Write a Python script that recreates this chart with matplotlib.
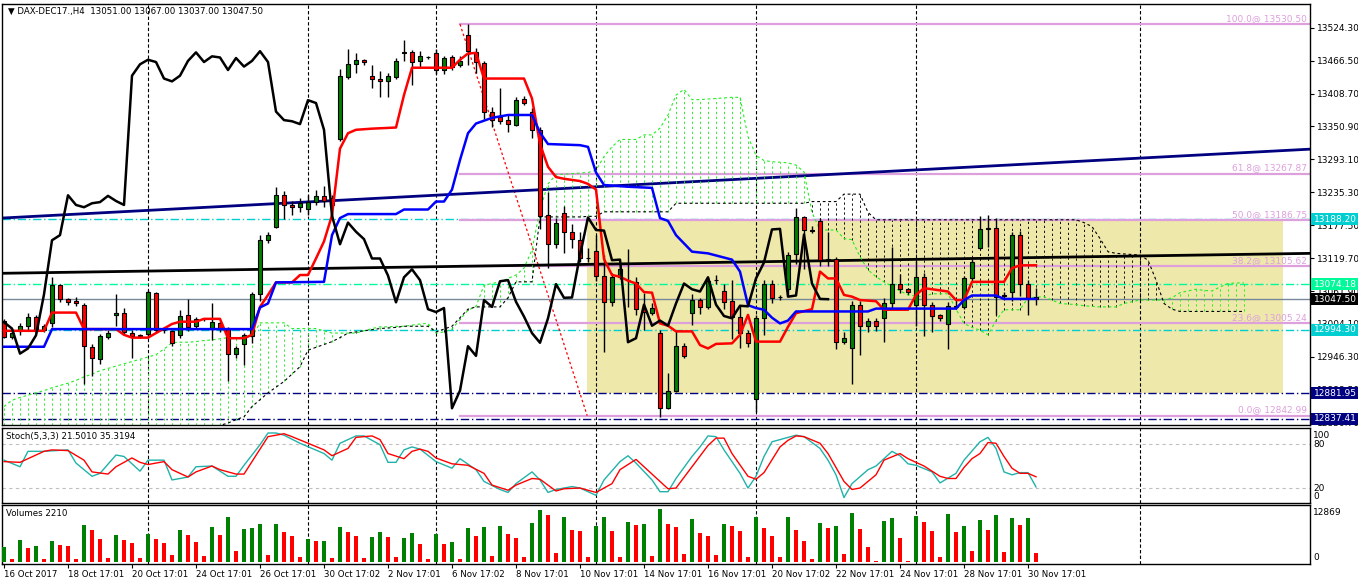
import numpy as np
import matplotlib
matplotlib.use("Agg")
import matplotlib.pyplot as plt
from matplotlib.patches import Rectangle
from matplotlib.transforms import blended_transform_factory

plt.rcParams['font.family'] = ['DejaVu Sans']
plt.rcParams['font.size'] = 6.5

# DAX-DEC17 H4 candles, bar 0 = 16 Oct 2017
opens = [13010, 12981, 12992, 13000, 13016, 12993, 13005, 13072, 13047, 13044,
         13038, 12964, 12943, 12982, 13020, 13023, 12989, 12984, 12986, 13058,
         12993, 12991, 12985, 13019, 13000, 13012, 12996, 13005, 12996, 12952,
         12969, 12983, 13057, 13151, 13174, 13230, 13213, 13209, 13206, 13218,
         13228, 13226, 13329, 13438, 13460, 13468, 13440, 13434, 13430, 13438,
         13480, 13481, 13465, 13472, 13479, 13450, 13472, 13458, 13511, 13482,
         13463, 13377, 13367, 13362, 13354, 13399, 13377, 13345, 13195, 13144,
         13199, 13166, 13152, 13120, 13133, 13089, 13043, 13086, 13081, 13078,
         13030, 13024, 12988, 12856, 12887, 12965, 13024, 13046, 13034, 13082,
         13062, 13044, 13017, 12988, 12872, 13014, 13074, 13051, 13065, 13127,
         13191, 13169, 13185, 13117.5, 13118, 12972, 12961, 13038, 13001, 13010,
         13014, 13040, 13075, 13065, 13038, 13086, 13038, 13020, 13004, 13033,
         13033, 13084, 13138, 13171, 13172, 13055, 13061, 13161, 13075, 13051]
highs = [13013, 12994, 13005, 13023, 13020, 13004, 13087, 13075, 13049, 13051,
         13040, 12969, 12987, 12994, 13056, 13032, 12994, 12987, 13064, 13060,
         12999, 12993, 13028, 13048, 13016, 13014, 13040, 13010, 12999, 12966,
         12988, 13061, 13161, 13165, 13244, 13237, 13220, 13225, 13230, 13239,
         13247, 13231, 13452, 13487, 13480, 13470, 13458, 13449, 13445, 13471,
         13503, 13485, 13484, 13475, 13486, 13474, 13477, 13474, 13530.5, 13488,
         13466, 13385, 13418, 13371, 13402, 13405, 13383, 13350, 13235, 13190,
         13211, 13180, 13165, 13137, 13160, 13125, 13094, 13104, 13135, 13087,
         13058, 13040, 12993, 12918, 12992, 12971, 13056, 13050, 13085, 13090,
         13075, 13082, 13035, 12993, 13020, 13082, 13082, 13055, 13130, 13207,
         13194, 13176, 13190, 13166, 13121, 12990, 13044, 13044, 13015, 13015,
         13050, 13140, 13092, 13068, 13115, 13094, 13042, 13022, 13042, 13048,
         13089, 13118, 13193, 13195, 13190, 13060, 13166, 13167, 13082, 13067]
lows = [12979, 12978, 12985, 12993, 12988, 12990, 12999, 13043, 13038, 13036,
        12899, 12913, 12933, 12977, 13000, 12984, 12945, 12980, 12979, 12990,
        12988, 12965, 12980, 12992, 12996, 13010, 12976, 12990, 12903, 12945,
        12932, 12970, 13044, 13146, 13172, 13188, 13196, 13200, 13196, 13213,
        13210, 13190, 13326, 13435, 13445, 13459, 13418, 13402, 13402, 13435,
        13465, 13424, 13456, 13469, 13443, 13443, 13450, 13455, 13458, 13445,
        13364, 13350, 13355, 13342, 13352, 13388, 13330, 13170, 13103, 13138,
        13128, 13138, 13112, 13113, 13080, 12955, 13036, 13083, 13034, 13020,
        12994, 13020, 12840, 12855, 12884, 12945, 13002, 13022, 13030, 13075,
        13030, 12978, 12962, 12963, 12850, 12985, 13040, 13046, 13055, 13110,
        13100, 13164, 13105, 13105, 12960, 12968, 12898, 12950, 12990, 12992,
        12972, 13030, 13058, 13056, 13000, 12983, 12990, 13010, 12960, 13030,
        13030, 13080, 13135, 13140, 13020, 13050, 13045, 13053, 13020, 13037]
closes = [12982, 12989, 13000, 13016, 12992, 13000, 13072, 13047, 13042, 13041,
          12965, 12945, 12983, 12989, 13024, 12990, 12983, 12983, 13060, 12993,
          12994, 12971, 13018, 12998, 13012, 13013, 13007, 12996, 12952, 12961,
          12984, 13056, 13151, 13160, 13230, 13213, 13209, 13216, 13218, 13229,
          13220, 13213, 13440, 13460, 13468, 13464, 13435, 13430, 13440, 13466,
          13481, 13464, 13474, 13472, 13450, 13471, 13456, 13466, 13483, 13464,
          13377, 13362, 13360, 13355, 13397, 13392, 13345, 13194, 13144, 13182,
          13166, 13153, 13119, 13119, 13089, 13042, 13086, 13100, 13081, 13030,
          13025, 13032, 12856, 12887, 12965, 12948, 13046, 13034, 13079, 13081,
          13043, 13017, 12988, 12971, 13014, 13074, 13050, 13050.5, 13125, 13191,
          13169, 13168, 13116, 13117, 12972, 12979, 13038, 13001, 13010, 13001,
          13040, 13075, 13065, 13061, 13086, 13038, 13018, 13014, 13036, 13035,
          13084, 13112, 13170, 13171, 13052, 13054, 13161, 13075, 13048, 13047.5]
volumes = [3760, 800, 5360, 3520, 3920, 800, 5120, 4160, 3920, 800,
           8960, 7760, 5680, 1120, 6560, 5360, 4720, 1120, 6800, 5680,
           4640, 1760, 7760, 6560, 4880, 1520, 8480, 6560, 10880, 2720,
           8080, 8160, 9200, 1760, 9200, 7280, 6320, 1280, 5600, 5120,
           5200, 1040, 8480, 7280, 6320, 1040, 6080, 7280, 6080, 1280,
           5840, 7040, 4400, 800, 6800, 4400, 4880, 800, 8240, 6320,
           8480, 1520, 8720, 6800, 5920, 1280, 9440, 12560, 11360, 2240,
           10880, 7760, 7520, 1280, 8720, 10880, 7520, 1280, 9680, 8960,
           9200, 1520, 12869, 9200, 8480, 2000, 10400, 7040, 6320, 1760,
           9200, 8720, 7520, 1280, 10880, 8240, 6320, 1280, 10880, 7760,
           5120, 800, 9440, 8240, 8720, 2000, 11840, 8000, 3680, 320,
           9920, 10640, 5840, 320, 11120, 9680, 7520, 1280, 11600, 7280,
           8720, 2720, 10160, 7760, 11360, 2480, 10640, 8960, 10640, 2210]

# Ichimoku lines (vertices)
tenkan_bar = [0, 5, 6, 9, 10, 14, 15, 16, 18, 19, 20, 21, 22, 24, 25, 27, 28, 30, 31, 32,
              33, 34, 36, 37, 38, 39, 40, 41, 42, 43, 44, 46, 49, 50, 51, 56, 57, 58, 59, 60,
              65, 66, 67, 68, 69, 70, 72, 73, 74, 75, 76, 77, 78, 79, 80, 81, 82, 83, 84, 86,
              87, 88, 89, 91, 92, 93, 94, 97, 98, 99, 101, 102, 103, 104, 105, 106, 107, 109, 110, 113,
              114, 115, 117, 118, 119, 120, 121, 125, 126, 127, 129]
tenkan_val = [12992, 12992, 13024, 13024, 12995, 12995, 12985, 12980, 12980, 12988, 12996, 13004, 13008, 13008, 13013, 13013, 12979, 12979, 12985, 13034,
              13055, 13077, 13077, 13090, 13090, 13119, 13149, 13195, 13312, 13339, 13345, 13347, 13349, 13406, 13454, 13454, 13468, 13479, 13480, 13435,
              13435, 13400, 13320, 13280, 13262, 13259, 13255, 13250, 13240, 13118, 13090, 13087, 13080, 13075, 13060, 13059, 13005, 13001, 12991, 12991,
              12967, 12961, 12969, 12970, 12985, 13020, 12973, 12973, 12999, 13023, 13030, 13096, 13084, 13084, 13055, 13052, 13046, 13044, 13029, 13029,
              13055, 13067, 13063, 13061, 13046, 13046, 13078, 13078, 13102, 13107, 13107]
kijun_bar = [0, 5, 6, 31, 32, 33, 34, 40, 41, 42, 43, 49, 50, 53, 54, 55, 56, 57, 58, 59,
             61, 63, 66, 67, 68, 72, 73, 74, 75, 78, 81, 82, 83, 84, 86, 88, 91, 92, 93, 94,
             95, 96, 97, 98, 99, 108, 109, 119, 120, 121, 124, 125, 129]
kijun_val = [12964, 12964, 12995, 12995, 13033, 13040, 13077, 13078, 13160, 13190, 13197, 13197, 13205, 13205, 13219, 13219, 13240, 13292, 13339, 13356,
             13366, 13371, 13371, 13340, 13320, 13318, 13315, 13270, 13248, 13245, 13243, 13190, 13185, 13160, 13131, 13128, 13117, 13096, 13037, 13032,
             13029, 13015, 13005, 13010, 13026, 13026, 13031, 13031, 13046, 13054, 13054, 13048, 13048]
span_a = [12859, 12870, 12875, 12879, 12883, 12887, 12892, 12896, 12900, 12905,
          12911, 12916, 12922, 12926, 12930, 12934, 12938, 12942, 12946, 12950,
          12960, 12971, 12972, 12972, 12973, 12975, 12976, 12978, 12980, 12980,
          12981, 12981, 13006, 13006, 13006, 13006, 12996, 12996, 12996, 12996,
          12992, 12988, 12988, 12988, 12988, 12992, 12996, 12999, 12999, 13000,
          13000, 13002, 13004, 13005, 12988, 12990, 12995, 13012, 13028, 13035,
          13072, 13075, 13078, 13084, 13090, 13102, 13134, 13205, 13250, 13266,
          13267, 13268, 13269, 13270, 13274, 13298, 13315, 13328, 13328, 13328,
          13336, 13336, 13348, 13371, 13406, 13416, 13398, 13398, 13399, 13400,
          13401, 13402, 13402, 13333, 13300, 13291, 13289, 13288, 13287, 13283,
          13271, 13200, 13169, 13169, 13169, 13154, 13152, 13122, 13099, 13087,
          13078, 13070, 13062, 13055, 13053, 13052, 13057, 13057, 13057, 13030,
          13005, 12998, 12993, 12985, 13010, 13029, 13029, 13029, 13050, 13051,
          13052, 13046, 13040, 13039, 13038, 13036, 13035, 13034, 13034, 13034,
          13040, 13043, 13046, 13046, 13046, 13046, 13050, 13059, 13062, 13065,
          13063, 13062, 13069, 13075, 13076, 13076]
span_b = [12800] * 27 + [12826, 12830, 12836,
          12841, 12859, 12871, 12883, 12893, 12903, 12916, 12929, 12958, 12963,
          12968, 12973, 12980, 12988, 12990, 12992, 12994, 12996, 12997, 12998,
          13000, 13000, 13000, 13000, 12990, 12995, 13000, 13015, 13030, 13034,
          13034, 13034, 13034, 13050, 13078, 13078, 13078, 13192, 13192, 13192,
          13192, 13192, 13192, 13193, 13193, 13201, 13201, 13201, 13201, 13201,
          13201, 13201, 13201, 13201, 13216, 13216, 13216, 13216, 13216, 13216,
          13216, 13216, 13216, 13216, 13216, 13216, 13216, 13216, 13216, 13216,
          13216, 13219, 13219, 13219, 13219, 13232, 13232, 13232, 13200, 13187] + [13187] * 25 + [
          13182, 13175, 13154, 13131, 13128,
          13127, 13126, 13125, 13116, 13081, 13040, 13030, 13026, 13026, 13026,
          13026, 13026, 13026, 13026, 13026, 13026]

# Stochastic (5,3,3)
stoch_k_bar = [0, 2, 3, 5, 8, 9, 11, 12, 14, 15, 17, 18, 20, 21, 23, 24, 26, 28, 29, 30,
               32, 33, 34, 35, 37, 40, 41, 42, 44, 45, 47, 48, 49, 50, 51, 52, 54, 56, 57, 59,
               60, 62, 63, 64, 66, 67, 68, 69, 71, 72, 74, 75, 77, 78, 79, 81, 82, 83, 84, 86,
               87, 88, 89, 90, 92, 93, 94, 95, 96, 98, 99, 100, 102, 103, 104, 105, 106, 108, 109, 111,
               112, 113, 114, 116, 117, 119, 120, 122, 123, 124, 125, 126, 127, 128, 129]
stoch_k_val = [58, 49, 70, 70, 72, 54, 36, 40, 65, 63, 43, 58, 58, 31, 35, 49, 50, 36, 36, 51,
               79, 95, 95, 92, 81, 67, 58, 81, 91, 91, 79, 55, 55, 72, 76, 73, 56, 47, 60, 45,
               29, 18, 14, 26, 42, 31, 14, 18, 22, 20, 10, 31, 56, 64, 54, 31, 15, 15, 33, 63,
               76, 91, 90, 72, 40, 20, 36, 63, 83, 89, 92, 90, 74, 58, 38, 7, 26, 45, 50, 70,
               64, 53, 51, 42, 27, 40, 58, 83, 89, 74, 42, 38, 41, 41, 21.501]
stoch_d_bar = [0, 2, 4, 5, 6, 8, 10, 11, 13, 14, 16, 17, 18, 20, 21, 23, 24, 26, 27, 29,
               30, 31, 33, 35, 36, 38, 40, 41, 43, 44, 46, 47, 48, 50, 51, 52, 53, 54, 56, 58,
               60, 61, 63, 64, 66, 67, 69, 70, 72, 74, 76, 77, 79, 80, 82, 83, 84, 86, 88, 89,
               90, 91, 93, 94, 95, 97, 98, 99, 100, 102, 103, 105, 106, 107, 109, 110, 112, 113, 115, 117,
               118, 119, 120, 121, 122, 123, 124, 125, 126, 127, 128, 129]
stoch_d_val = [56, 55, 65, 70, 72, 71, 58, 42, 39, 49, 61, 55, 52, 56, 45, 35, 42, 50, 45, 39,
               39, 56, 90, 94, 90, 81, 72, 64, 74, 89, 91, 86, 67, 60, 70, 73, 70, 61, 53, 51,
               40, 24, 17, 24, 33, 32, 16, 19, 20, 14, 26, 45, 59, 49, 29, 19, 20, 49, 78, 88,
               88, 67, 36, 32, 41, 76, 85, 91, 90, 81, 67, 29, 18, 20, 38, 58, 67, 60, 50, 36,
               33, 33, 48, 60, 67, 82, 81, 63, 47, 40, 40, 35.3194]

# chart objects
fib_levels = ['100.0', '61.8', '50.0', '38.2', '23.6', '0.0']
fib_prices = [13530.50, 13267.87, 13186.75, 13105.62, 13005.24, 12842.99]
level_prices = [13188.20, 13074.18, 12994.30, 12881.95, 12837.41]
level_colors = ['#00CED1', '#00FA9A', '#00CED1', '#000080', '#000080']
price_ticks = [12830.70, 12888.50, 12946.30, 13004.10, 13061.90, 13119.70, 13177.50,
               13235.30, 13293.10, 13350.90, 13408.70, 13466.50, 13524.30]
date_labels = ['16 Oct 2017', '18 Oct 17:01', '20 Oct 17:01', '24 Oct 17:01', '26 Oct 17:01',
               '30 Oct 17:02', '2 Nov 17:01', '6 Nov 17:02', '8 Nov 17:01', '10 Nov 17:01',
               '14 Nov 17:01', '16 Nov 17:01', '20 Nov 17:02', '22 Nov 17:01', '24 Nov 17:01',
               '28 Nov 17:01', '30 Nov 17:01']
grid_bars = [18, 38, 54, 74, 94, 114, 142]

W, H = 1358, 584
fig = plt.figure(figsize=(W / 100, H / 100), dpi=100)


def add_panel(top, bottom):
    return fig.add_axes([2 / W, 1 - bottom / H, 1308 / W, (bottom - top) / H])


ax = add_panel(4, 425)
ax_st = add_panel(428, 503)
ax_v = add_panel(505, 564)

XMIN, XMAX = -0.25, 163.25
DASHDOT = (0, (6, 2, 1, 2))
for a in (ax, ax_st, ax_v):
    a.set_xlim(XMIN, XMAX)
    for s in a.spines.values():
        s.set_color('black')
        s.set_linewidth(1)
    a.tick_params(axis='x', bottom=False, labelbottom=False)
    for g in grid_bars:
        a.axvline(g, color='black', lw=0.8, ls=(0, (3, 2)), zorder=1.5)

# ---- main price panel
ax.set_ylim(12826.6, 13565.9)
ax.yaxis.tick_right()
ax.set_yticks(price_ticks)
ax.set_yticklabels([f'{p:.2f}' for p in price_ticks])
ax.tick_params(axis='y', direction='out', length=3, width=0.8, pad=2, labelsize=6.5)

ax.add_patch(Rectangle((72.9, 12881.95), 87.0, 13188.20 - 12881.95,
                       fc='#EEE8AA', ec='none', zorder=0.5))

for p, col in zip(level_prices, level_colors):
    ax.axhline(p, color=col, lw=1, ls=DASHDOT, zorder=1.8)
ax.axhline(closes[-1], color='#778899', lw=1, zorder=1.8)

ax.plot([XMIN, XMAX], [13190, 13311], color='#000080', lw=2, zorder=2.2)
ax.plot([XMIN, XMAX], [13093, 13128], color='black', lw=2, zorder=2.2)

# fibonacci retracement
ax.plot([57, 72.9], [13530.5, 12843], color='red', lw=0.9, ls=(0, (2, 2)), zorder=2.1)
for lvl, p in zip(fib_levels, fib_prices):
    ax.plot([57, XMAX], [p, p], color='#DDA0DD', lw=1.6, zorder=2)
    ax.text(162.9, p + 2, f'{lvl}@ {p:.2f}', ha='right', va='bottom',
            color='#DDA0DD', fontsize=6.5, zorder=2)

# kumo
sa = np.array(span_a, dtype=float)
sb = np.array(span_b, dtype=float)
xs = np.arange(len(sa))
cloud_cols = np.where(sa >= sb, '#22EE22', 'black')
ax.vlines(xs, np.minimum(sa, sb), np.maximum(sa, sb), colors=cloud_cols,
          linestyles=(0, (2.5, 3)), lw=0.65, zorder=2.5)
ax.plot(xs, sa, color='#22EE22', ls=(0, (2.5, 2.5)), lw=0.8, zorder=2.6)
ax.plot(xs, sb, color='black', ls=(0, (2.5, 2.5)), lw=0.8, zorder=2.6)

# candles
o = np.array(opens, dtype=float)
c = np.array(closes, dtype=float)
bx = np.arange(len(c))
ax.vlines(bx, lows, highs, color='black', lw=1, zorder=3)
body_cols = np.where(c >= o, '#008000', '#FF0000')
ax.bar(bx, np.maximum(np.abs(c - o), 0.8), bottom=np.minimum(o, c), width=0.62,
       color=body_cols, edgecolor='black', lw=0.8, zorder=3.1)

# ichimoku lines
ax.plot(tenkan_bar, tenkan_val, color='#FF0000', lw=1.8, zorder=4)
ax.plot(kijun_bar, kijun_val, color='#0000FF', lw=1.8, zorder=4)
ax.plot(bx[:-26], c[26:], color='black', lw=1.8, zorder=4)

ax.text(6 / 1308, 1 - 7 / 421, '\u25bc DAX-DEC17.,H4  13051.00 13067.00 13037.00 13047.50',
        transform=ax.transAxes, ha='left', va='center', fontsize=6.2, zorder=8)

# right price tags
trans = blended_transform_factory(ax.transAxes, ax.transData)
tag_prices = level_prices + [closes[-1]]
tag_colors = level_colors + ['black']
box_h = 12 * (13565.9 - 12826.6) / 421
for p, col in zip(tag_prices, tag_colors):
    ax.add_patch(Rectangle((1.0008, p - box_h / 2), 47 / 1308, box_h, transform=trans,
                           fc=col, ec='none', clip_on=False, zorder=6))
    ax.text(1.0008 + 3 / 1308, p, f'{p:.2f}', transform=trans, color='white',
            ha='left', va='center', fontsize=6.5, clip_on=False, zorder=7)

# ---- stochastic panel
ax_st.set_ylim(-0.4, 101.8)
ax_st.set_yticks([])
for lv in (80, 20):
    ax_st.axhline(lv, color='#C0C0C0', lw=0.8, ls=(0, (3, 3)), zorder=1)
ax_st.plot(stoch_k_bar, stoch_k_val, color='#20B2AA', lw=1, zorder=3)
ax_st.plot(stoch_d_bar, stoch_d_val, color='#FF0000', lw=1, zorder=3)
ax_st.text(4 / 1308, 1 - 9 / 75, 'Stoch(5,3,3) 21.5010 35.3194', transform=ax_st.transAxes,
           ha='left', va='center', fontsize=6.2)
st_trans = blended_transform_factory(ax_st.transAxes, ax_st.transData)
for txt, yv in [('100', 92), ('80', 79), ('20', 20), ('0', 8)]:
    ax_st.text(1 + 3 / 1308, yv, txt, transform=st_trans, ha='left', va='center',
               fontsize=6.5, clip_on=False)

# ---- volume panel
vol = np.array(volumes, dtype=float)
vol_up = np.r_[True, vol[1:] > vol[:-1]]
ax_v.set_ylim(-408, 13752)
ax_v.set_yticks([])
ax_v.bar(bx, vol, width=0.48, color=np.where(vol_up, '#008000', '#FF0000'), zorder=3)
ax_v.text(4 / 1308, 1 - 9 / 59, f'Volumes {volumes[-1]}', transform=ax_v.transAxes,
          ha='left', va='center', fontsize=6.2)
v_trans = blended_transform_factory(ax_v.transAxes, ax_v.transData)
for txt, yv in [('12869', 12070), ('0', 1270)]:
    ax_v.text(1 + 3 / 1308, yv, txt, transform=v_trans, ha='left', va='center',
              fontsize=6.5, clip_on=False)

ax_v.set_xticks(list(range(0, 129, 8)))
ax_v.set_xticklabels(date_labels, ha='left')
ax_v.tick_params(axis='x', bottom=True, labelbottom=True, direction='out',
                 length=3, width=0.8, pad=1.5, labelsize=6.2)

fig.savefig('out.png', dpi=100)
